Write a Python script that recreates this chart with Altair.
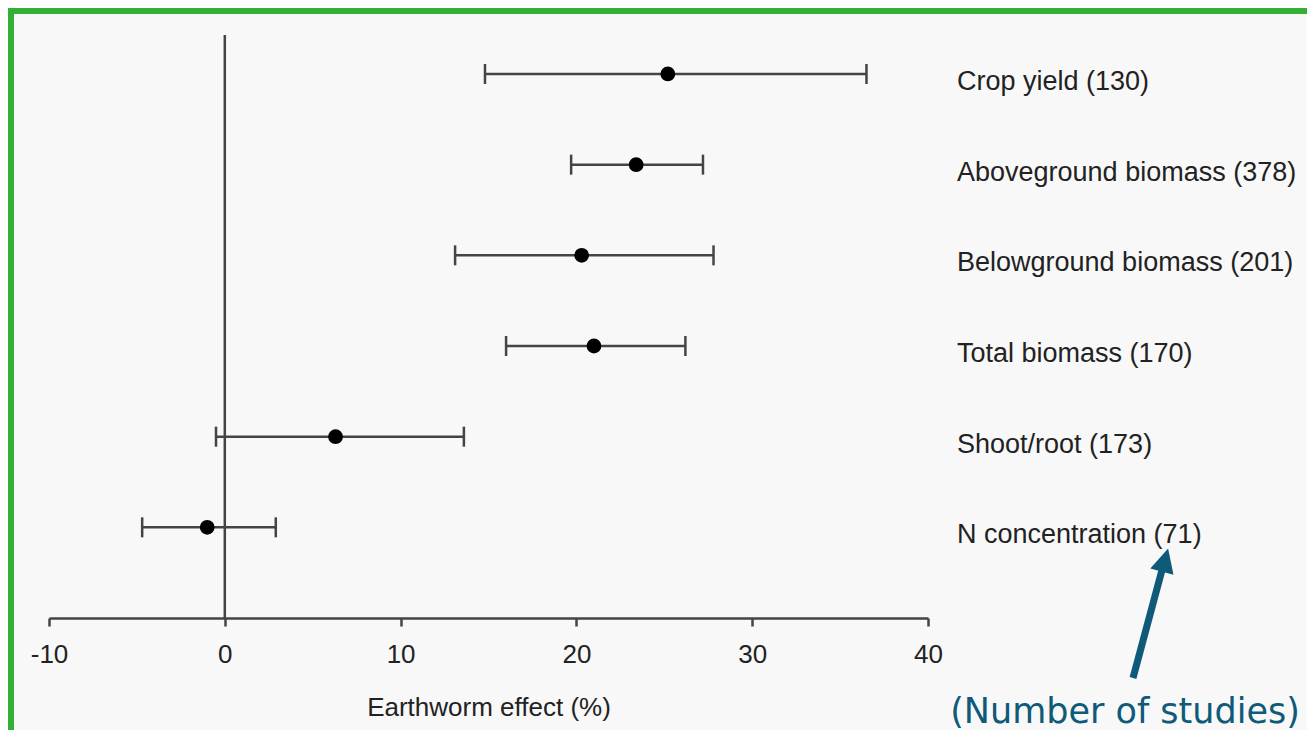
import altair as alt
import pandas as pd

# ---- data ----
labels = [
    "Crop yield (130)",
    "Aboveground biomass (378)",
    "Belowground biomass (201)",
    "Total biomass (170)",
    "Shoot/root (173)",
    "N concentration (71)",
]
row = [6, 5, 4, 3, 2, 1]
effect = [25.2, 23.4, 20.3, 21.0, 6.3, -1.0]
lower = [14.8, 19.7, 13.1, 16.0, -0.5, -4.7]
upper = [36.5, 27.2, 27.8, 26.2, 13.6, 2.9]
x_ticks = [-10, 0, 10, 20, 30, 40]

df = pd.DataFrame({"label": labels, "row": row, "effect": effect,
                   "lower": lower, "upper": upper})
one = pd.DataFrame({"a": [0]})

W, H = 879, 583
INK = "#444444"
TEAL = "#0e5a78"
GREEN = "#33b033"
FONT = "Liberation Sans"

xscale = alt.Scale(domain=[-10, 40], nice=False, zero=False)
yscale = alt.Scale(domain=[0, 6.43], nice=False, zero=False)

xaxis = alt.Axis(values=x_ticks, grid=False, tickSize=8, tickWidth=2.5,
                 tickColor=INK, domainColor=INK, domainWidth=2.5,
                 labelFontSize=26, labelColor="#222222", labelFont=FONT,
                 labelPadding=15, labelFlush=False,
                 labelExpr="'' + datum.value",
                 title="Earthworm effect (%)",
                 titleFontSize=26, titleFont=FONT, titleFontWeight="normal",
                 titleColor="#222222", titlePadding=27)

base = alt.Chart(df)

bars = base.mark_rule(color=INK, strokeWidth=2.5).encode(
    x=alt.X("lower:Q", scale=xscale, axis=xaxis),
    x2="upper:Q",
    y=alt.Y("row:Q", scale=yscale, axis=None),
)
cap_lo = base.mark_tick(color=INK, orient="vertical", size=20, thickness=2.5, opacity=1).encode(
    x=alt.X("lower:Q", scale=xscale), y=alt.Y("row:Q", scale=yscale))
cap_hi = base.mark_tick(color=INK, orient="vertical", size=20, thickness=2.5, opacity=1).encode(
    x=alt.X("upper:Q", scale=xscale), y=alt.Y("row:Q", scale=yscale))
pts = base.mark_circle(color="black", size=218, opacity=1).encode(
    x=alt.X("effect:Q", scale=xscale), y=alt.Y("row:Q", scale=yscale))

zero_line = alt.Chart(pd.DataFrame({"v": [0]})).mark_rule(color=INK, strokeWidth=2.5).encode(
    x=alt.X("v:Q", scale=xscale), y=alt.value(0), y2=alt.value(H))

text = base.mark_text(align="left", baseline="middle", dy=8, fontSize=27,
                      font=FONT, color="#222222").encode(
    x=alt.value(908), y=alt.Y("row:Q", scale=yscale), text="label:N")

# annotation: arrow and note
shaft = alt.Chart(one).mark_rule(color=TEAL, strokeWidth=7).encode(
    x=alt.value(1084), y=alt.value(643), x2=alt.value(1113), y2=alt.value(535))
head = alt.Chart(one).mark_point(shape="M0,-1L1,1L-1,1Z", size=576, filled=True,
                                 color=TEAL, opacity=1, angle=15).encode(
    x=alt.value(1116), y=alt.value(525))
note = alt.Chart(one).mark_text(text="(Number of studies)", font="DejaVu Sans",
                                fontSize=35, color=TEAL, align="center",
                                baseline="alphabetic").encode(
    x=alt.value(1076), y=alt.value(688))

# green frame strips (top and left)
frame_top = alt.Chart(one).mark_rule(color=GREEN, strokeWidth=6).encode(
    x=alt.value(-41), x2=alt.value(1258), y=alt.value(-24))
frame_left = alt.Chart(one).mark_rule(color=GREEN, strokeWidth=6).encode(
    x=alt.value(-38), y=alt.value(-27), y2=alt.value(695))

chart = alt.layer(
    frame_top, frame_left, zero_line, bars, cap_lo, cap_hi, pts, text, shaft, head, note
).properties(
    width=W, height=H,
    autosize=alt.AutoSizeParams(type="none"),
    padding={"left": 41, "top": 27, "right": 379, "bottom": 112},
).configure(background="#f8f8f8").configure_view(stroke=None)

chart.save("out.html", embed_options={"renderer": "svg", "actions": False})
